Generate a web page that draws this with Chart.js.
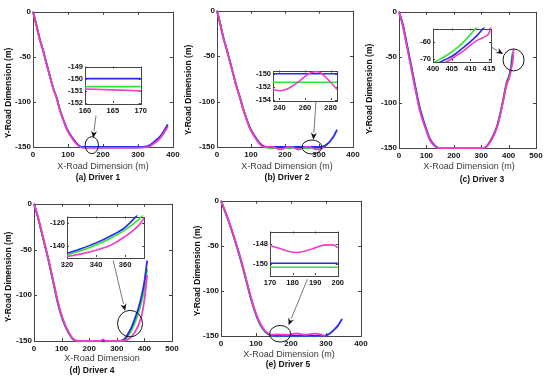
<!DOCTYPE html>
<html>
<head>
<meta charset="utf-8">
<script src="https://cdn.jsdelivr.net/npm/chart.js@4.4.1/dist/chart.umd.min.js"></script>
<style>
html,body{margin:0;padding:0;background:#fff;}
#fig{position:relative;width:550px;height:380px;overflow:hidden;background:#fff;font-family:"Liberation Sans",Arial,sans-serif;}
#fig canvas{position:absolute;}
.lbl{position:absolute;white-space:nowrap;transform:translate(-50%,-50%);line-height:1;}
.xt{font-size:9px;color:#3a3a3a;}
.cap{font-size:8.5px;font-weight:bold;color:#111;}
.yt{font-size:8.5px;font-weight:bold;color:#111;transform:translate(-50%,-50%) rotate(-90deg);}
</style>
</head>
<body>
<div id="fig"></div>
<script>
// ---- data (x in m, y in m)
// (a) Driver 1
const aX     = [0,10,19,29,39,48,58,68,77,87,96,111,125,140,160,200,250,300,310,328,347,366,385];
const aBlue  = [0,-15,-30,-43,-58,-71,-85,-96,-109,-120,-129,-139,-146,-150,-150,-150,-150,-150,-150,-149,-144,-137,-125];
const aGreen = [0,-15,-30,-43,-58,-71,-85,-96,-109,-120,-129.5,-139.5,-146.5,-150.4,-150.6,-150.6,-150.6,-150.6,-150.4,-149.6,-145,-138,-126];
const aMag   = [0,-15.5,-30.5,-43.5,-58.5,-71.5,-85.5,-96.5,-109.5,-120.5,-130,-140,-147,-150.6,-150.9,-150.9,-150.9,-150.9,-150.6,-150,-145.8,-139,-127.5];
const aInX     = [160,165,170];
const aInBlue  = [-150,-150,-150];
const aInGreen = [-150.65,-150.65,-150.65];
const aInMag   = [-150.85,-150.92,-151];

// (b) Driver 2
const bX     = [0,10,19,29,39,48,58,68,77,87,96,111,125,140,160,173,186,200,213,227,240,253,267,280,294,305,315,325,335,345,353];
const bBlue  = [0,-15,-30,-43,-57,-70,-84,-96,-108,-119,-128,-138,-145.5,-149.5,-150,-150,-150,-150,-150,-150,-150,-150,-150,-150,-150,-150,-149,-146.5,-142.5,-137,-131];
const bGreen = [0,-15,-30,-43,-57,-70,-84,-96,-108,-119,-128.5,-138.5,-146,-150,-151.3,-151.3,-151.3,-151.3,-151.3,-151.3,-151.3,-151.3,-151.3,-151.3,-151.3,-151,-149.5,-146.5,null,null,null];
const bMag   = [0,-15.5,-30.5,-43.5,-57.5,-70.5,-84.5,-96.5,-108.5,-119.5,-129,-139,-146.5,-150.5,-149.6,-151.1,-152.6,-151.1,-149.6,-151.1,-152.6,-151.1,-149.6,-151.1,-152.6,-152,-150.5,null,null,null,null];
const bInX     = [235,240,245,250,255,260,265,270,275,280,285];
const bInBlue  = [-150,-150,-150,-150,-150,-150,-150,-150,-150,-150,-150];
const bInGreen = [-151.3,-151.3,-151.3,-151.3,-151.3,-151.3,-151.3,-151.3,-151.3,-151.3,-151.3];
const bInMag   = [-152.4,-152.6,-152.4,-151.9,-151.2,-150.4,-149.8,-149.7,-150.3,-151.3,-152.4];

// (c) Driver 3
const cX     = [0,15,27,39,52,64,76,95,113,130,145,200,250,310,332,357,375,393,402,408,412,415,418];
const cBlue  = [0,-15,-33,-51,-71,-89,-106,-125,-140,-147,-150,-150,-150,-150,-143,-127,-105,-79,-71.5,-63.5,-56,-47,null];
const cGreen = [0,-16,-34,-52,-72,-90,-107,-126,-141,-147.5,-150,-150,-150,-150,-143,-127,-104,-77,-69.8,-60.5,-51,-44,null];
const cMag   = [0,-17,-35.5,-54,-74,-92,-109,-127,-141.5,-148,-150,-150,-150,-150,-144,-128,-106,-80,-73,-65.5,-59,-55,-41];
const cInX     = [400,402,404,406,408,410,412,414,415,416];
const cInBlue  = [-73.5,-71.5,-69.5,-67,-63.5,-60,-56,-51,null,null];
const cInGreen = [-72.2,-69.8,-67.3,-64.3,-60.5,-56,-51,null,null,null];
const cInMag   = [-76,-73.5,-71,-68.3,-65.5,-62,-59,-57,-55,-47];

// (d) Driver 4
const dX     = [0,15,27,39,51,63,75,87,105,124,142,160,200,240,250,260,300,318,330,342,354,366,378,390,400,410];
const dBlue  = [0,-15.4,-30,-44.7,-59.4,-75.9,-92.4,-108.9,-127.2,-140,-148.1,-150,-150,-150,-150,-150,-150,-149.5,-147,-141.5,-134.5,-125,-114.5,-100.5,-85,-62];
const dGreen = [0,-16,-31,-45.5,-60.5,-77,-93.5,-110,-128,-140.8,-148.5,-150.3,-150.3,-150.3,-150.3,-150.3,-150.3,-150,-149,-144.1,-137.7,-129.6,-119.7,-106.6,-92.4,-70.8];
const dMag   = [0,-15,-29.5,-44,-59,-75,-91.5,-108,-126.5,-139.5,-147.8,-150,-150,-150,-148.3,-149.8,-150,-150,-149.5,-148,-145,-140,-133,-122,-105,-78];
const dInX     = [320,330,340,350,360,370,373];
const dInBlue  = [-146,-141.8,-137,-131,-123.5,-111,-107];
const dInGreen = [-147.5,-143.5,-138.8,-133,-125.8,-116,-112];
const dInMag   = [-149,-146.5,-143.3,-139,-131.5,-121,-115.6];

// (e) Driver 5
const eX     = [0,11,22,33,44,54,64,74,84,94,104,118,132,146,160,190,217,240,269,290,298,310,322,334,346];
const eBlue  = [0,-11,-22.5,-35.5,-49,-62,-76,-91,-106,-119,-130,-141,-147,-149.5,-149.9,-149.9,-149.9,-149.9,-149.9,-149.9,-149.6,-147.5,-143.5,-138.5,-131];
const eGreen = [0,-11.5,-23,-36,-49.5,-62.5,-77,-92,-107,-120,-131,-141.5,-147.5,-150,-150.3,-150.3,-150.3,-150.3,-150.3,-150.3,null,null,null,null,null];
const eMag   = [0,-11,-22,-35,-48,-61,-75,-90,-105,-118,-129,-140,-146.5,-148.5,-148.3,-148.6,-147.2,-148.6,-147.3,-149,-150,null,null,null,null];
const eInX     = [170,174,178,182,186,190,194,198,200];
const eInBlue  = [-149.94,-149.94,-149.94,-149.94,-149.94,-149.94,-149.94,-149.94,-149.94];
const eInGreen = [-150.33,-150.33,-150.33,-150.33,-150.33,-150.33,-150.33,-150.33,-150.33];
const eInMag   = [-148.2,-148.45,-148.75,-148.88,-148.7,-148.42,-148.15,-148.12,-148.4];

// tick labels
const xTicks400 = [0,100,200,300,400];
const xTicks500 = [0,100,200,300,400,500];
const yTicksMain = [0,-50,-100,-150];
const aInXT = [160,165,170], aInYT = [-149,-150,-151,-152];
const bInXT = [240,260,280], bInYT = [-150,-152,-154];
const cInXT = [400,405,410,415], cInYT = [-60,-70];
const dInXT = [320,340,360], dInYT = [-120,-140];
const eInXT = [170,180,190,200], eInYT = [-148,-150];

const BLUE = '#2828f0', GREEN = '#2ee62e', MAG = '#f23cc8';
const FONT = '"Liberation Sans", Arial, sans-serif';
const fig = document.getElementById('fig');

// box + inward ticks, MATLAB style
const framePlugin = {
  id: 'frame',
  beforeDatasetsDraw(chart, args, o) {
    const {ctx, chartArea: a, scales} = chart;
    const t = o.tick;
    ctx.save();
    ctx.fillStyle = '#fff';
    ctx.fillRect(a.left, a.top, a.right - a.left, a.bottom - a.top);
    ctx.strokeStyle = '#444'; ctx.lineWidth = 1;
    ctx.strokeRect(Math.round(a.left) + 0.5, Math.round(a.top) + 0.5, Math.round(a.right - a.left), Math.round(a.bottom - a.top));
    ctx.beginPath();
    scales.x.ticks.forEach(tk => {
      const p = Math.round(scales.x.getPixelForValue(tk.value)) + 0.5;
      ctx.moveTo(p, a.bottom); ctx.lineTo(p, a.bottom - t);
      ctx.moveTo(p, a.top); ctx.lineTo(p, a.top + t);
    });
    scales.y.ticks.forEach(tk => {
      const p = Math.round(scales.y.getPixelForValue(tk.value)) + 0.5;
      ctx.moveTo(a.left, p); ctx.lineTo(a.left + t, p);
      ctx.moveTo(a.right, p); ctx.lineTo(a.right - t, p);
    });
    ctx.stroke();
    ctx.restore();
  }
};

// ellipse + arrow pointing at the zoomed region (data coords)
const notePlugin = {
  id: 'note',
  afterDatasetsDraw(chart, args, o) {
    const {ctx, scales: {x, y}} = chart;
    const [ex, ey, erx, ery] = o.ellipse;
    const cx = x.getPixelForValue(ex), cy = y.getPixelForValue(ey);
    const rx = x.getPixelForValue(ex + erx) - cx, ry = cy - y.getPixelForValue(ey + ery);
    ctx.save();
    ctx.strokeStyle = '#151515'; ctx.lineWidth = 1;
    ctx.beginPath(); ctx.ellipse(cx, cy, rx, ry, 0, 0, Math.PI * 2); ctx.stroke();
    const [x0, y0, x1, y1] = o.arrow;
    const px0 = x.getPixelForValue(x0), py0 = y.getPixelForValue(y0);
    const px1 = x.getPixelForValue(x1), py1 = y.getPixelForValue(y1);
    const ang = Math.atan2(py1 - py0, px1 - px0), hl = 7, hw = 3;
    ctx.strokeStyle = '#555'; ctx.lineWidth = 0.8;
    ctx.beginPath(); ctx.moveTo(px0, py0);
    ctx.lineTo(px1 - hl * Math.cos(ang), py1 - hl * Math.sin(ang)); ctx.stroke();
    ctx.fillStyle = '#111';
    ctx.beginPath();
    ctx.moveTo(px1, py1);
    ctx.lineTo(px1 - hl * Math.cos(ang) + hw * Math.sin(ang), py1 - hl * Math.sin(ang) - hw * Math.cos(ang));
    ctx.lineTo(px1 - hl * 0.7 * Math.cos(ang), py1 - hl * 0.7 * Math.sin(ang));
    ctx.lineTo(px1 - hl * Math.cos(ang) - hw * Math.sin(ang), py1 - hl * Math.sin(ang) + hw * Math.cos(ang));
    ctx.closePath(); ctx.fill();
    ctx.restore();
  }
};

function makeChart(c) {
  const pad = c.inset ? {l: 24, t: 5, r: 8, b: 13} : {l: 34, t: 6, r: 10, b: 16};
  const w = c.box[2] - c.box[0] + pad.l + pad.r;
  const h = c.box[3] - c.box[1] + pad.t + pad.b;
  const cv = document.createElement('canvas');
  cv.width = w; cv.height = h;
  cv.style.left = (c.box[0] - pad.l) + 'px';
  cv.style.top = (c.box[1] - pad.t) + 'px';
  cv.style.width = w + 'px'; cv.style.height = h + 'px';
  fig.appendChild(cv);
  const font = {family: FONT, size: c.inset ? 7.5 : 8, weight: 'bold'};
  const axis = (min, max, tks, padding, fit) => ({
    type: 'linear', min, max,
    grid: {display: false, drawTicks: false, tickLength: 0},
    border: {display: false},
    ticks: {font, color: '#111', padding, autoSkip: false, maxRotation: 0, minRotation: 0, callback: v => String(v)},
    afterBuildTicks: s => { s.ticks = tks.map(v => ({value: v})); },
    afterFit: fit
  });
  const series = [[c.ys[2], MAG], [c.ys[0], BLUE], [c.ys[1], GREEN]];
  new Chart(cv, {
    type: 'scatter',
    data: {
      datasets: series.map(([ys, col]) => ({
        data: c.xs.map((xv, i) => ({x: xv, y: ys[i]})),
        borderColor: col, backgroundColor: col,
        borderWidth: c.inset ? 1.6 : 1.8,
        showLine: true, pointRadius: 0, pointHoverRadius: 0,
        cubicInterpolationMode: 'monotone', spanGaps: false,
        clip: c.inset ? 1 : false
      }))
    },
    options: {
      responsive: false, animation: false, devicePixelRatio: 1, events: [],
      layout: {padding: {left: 0, top: pad.t, right: pad.r, bottom: 0}},
      scales: {
        x: axis(c.xr[0], c.xr[1], c.xt, 3, s => { s.height = pad.b; }),
        y: axis(c.yr[0], c.yr[1], c.yt, 2, s => { s.width = pad.l; })
      },
      plugins: {
        legend: {display: false}, tooltip: {enabled: false},
        frame: {tick: c.inset ? 2 : 3},
        note: c.note || false
      }
    },
    plugins: [framePlugin, notePlugin]
  });
}

// main panels
makeChart({box: [33, 11, 173, 147], xr: [0, 400], yr: [-150, 0], xt: xTicks400, yt: yTicksMain,
  xs: aX, ys: [aBlue, aGreen, aMag], note: {ellipse: [168, -148, 19, 9.4], arrow: [180, -115, 172, -140]}});
makeChart({box: [217, 10, 353, 147], xr: [0, 400], yr: [-150, 0], xt: xTicks400, yt: yTicksMain,
  xs: bX, ys: [bBlue, bGreen, bMag], note: {ellipse: [279, -150, 29, 7.7], arrow: [291, -100, 283.5, -142]}});
makeChart({box: [399, 11, 536, 148], xr: [0, 500], yr: [-150, 0], xt: xTicks500, yt: yTicksMain,
  xs: cX, ys: [cBlue, cGreen, cMag], note: {ellipse: [418, -53, 38.4, 12.1], arrow: [338, -39, 380, -46.5]}});
makeChart({box: [34, 203, 172, 341], xr: [0, 500], yr: [-150, 0], xt: xTicks500, yt: yTicksMain,
  xs: dX, ys: [dBlue, dGreen, dMag], note: {ellipse: [348, -131, 45.3, 14.5], arrow: [287, -62, 330, -117]}});
makeChart({box: [221, 200, 361, 336], xr: [0, 400], yr: [-150, 0], xt: xTicks400, yt: yTicksMain,
  xs: eX, ys: [eBlue, eGreen, eMag], note: {ellipse: [169, -147.5, 30, 9.2], arrow: [247, -87, 193, -138]}});

// zoomed insets
makeChart({inset: true, box: [85, 65, 142, 103], xr: [160, 170], yr: [-152, -149], xt: aInXT, yt: aInYT,
  xs: aInX, ys: [aInBlue, aInGreen, aInMag]});
makeChart({inset: true, box: [273, 69, 337, 100], xr: [235, 285], yr: [-154, -149.5], xt: bInXT, yt: bInYT,
  xs: bInX, ys: [bInBlue, bInGreen, bInMag]});
makeChart({inset: true, box: [433, 27, 491, 61], xr: [400, 415.5], yr: [-71, -52.5], xt: cInXT, yt: cInYT,
  xs: cInX, ys: [cInBlue, cInGreen, cInMag]});
makeChart({inset: true, box: [67, 215, 144, 257], xr: [320, 373], yr: [-149.2, -114.2], xt: dInXT, yt: dInYT,
  xs: dInX, ys: [dInBlue, dInGreen, dInMag]});
makeChart({inset: true, box: [270, 230, 339, 275], xr: [170, 200], yr: [-151.1, -146.8], xt: eInXT, yt: eInYT,
  xs: eInX, ys: [eInBlue, eInGreen, eInMag]});

// axis titles and captions
function addText(cls, txt, x, y) {
  const d = document.createElement('div');
  d.className = 'lbl ' + cls;
  d.textContent = txt;
  d.style.left = x + 'px'; d.style.top = y + 'px';
  fig.appendChild(d);
}
[['X-Road Dimension (m)', 103, 166], ['X-Road Dimension (m)', 287, 166], ['X-Road Dimension (m)', 469, 166],
 ['X-Road Dimension', 102, 358], ['X-Road Dimension (m)', 289, 354]].forEach(t => addText('xt', ...t));
[['(a) Driver 1', 98, 177], ['(b) Driver 2', 287, 177], ['(c) Driver 3', 482, 179],
 ['(d) Driver 4', 92, 370], ['(e) Driver 5', 288, 364]].forEach(t => addText('cap', ...t));
[[8, 93], [188, 90], [369, 89], [8, 277], [197, 271]].forEach(p => addText('yt', 'Y-Road Dimension (m)', p[0], p[1]));
</script>
</body>
</html>
